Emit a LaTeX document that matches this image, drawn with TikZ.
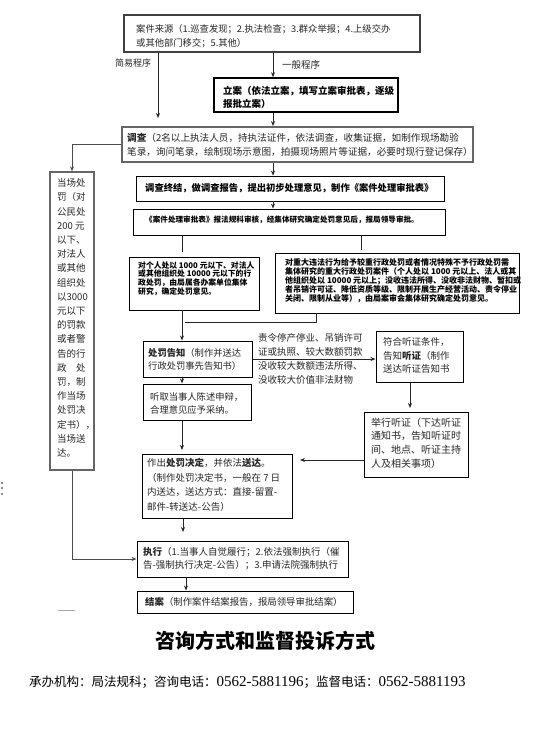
\documentclass[tikz,border=0pt]{standalone}
\usepackage{fontspec}
\setmainfont{Noto Sans CJK SC}
\newfontfamily\lat{Liberation Serif}
\usetikzlibrary{arrows.meta,fit}
\begin{document}
\begin{tikzpicture}[x=1pt,y=-1pt,
  frame/.style={draw=black, line width=0.8pt, inner sep=0pt},
  tx/.style={anchor=north west, inner sep=0pt, align=left, text=black!85},
  arr/.style={draw=black!85, line width=0.8pt, -{Stealth[length=5pt,width=4pt]}},
  ln/.style={draw=black!85, line width=0.8pt},
]
\useasboundingbox[fill=white] (0,0) rectangle (555,730);

% boxes
\node[frame, draw=black!75, line width=1.1pt, fit={(124,15) (420,52)}] (src) {};
\node[frame, line width=1.6pt, fit={(214,78) (398,112)}] (lian) {};
\node[frame, draw=black!60, line width=1.8pt, fit={(122,127) (473,162)}] (diaocha) {};
\node[frame, fit={(136,176) (444,201)}] (zhongjie) {};
\node[frame, fit={(133,209) (445,235)}] (shenpi) {};
\node[frame, fit={(129,257) (259,310)}] (lbox) {};
\node[frame, fit={(275,253) (519,313)}] (rbox) {};
\node[frame, line width=1pt, fit={(143,341) (252,377)}] (gaozhi) {};
\node[frame, line width=1pt, fit={(143,384) (251,420)}] (tingqu) {};
\node[frame, line width=1pt, fit={(376,331) (463,382)}] (tingzheng) {};
\node[frame, line width=1pt, fit={(364,412) (468,477)}] (juxing) {};
\node[frame, line width=1pt, fit={(142,454) (292,518)}] (jueding) {};
\node[frame, draw=black!60, line width=1.4pt, fit={(50,172) (94,470)}] (dangchang) {};
\node[frame, line width=1pt, fit={(137,541) (348,577)}] (zhixing) {};
\node[frame, line width=1pt, fit={(137,591) (353,613)}] (jiean) {};

% texts
\node[tx, font=\fontsize{9.3}{14}\selectfont] (src-t) at (136,24.6)
  {案件来源（1.巡查发现；2.执法检查；3.群众举报；4.上级交办\\或其他部门移交；5.其他）};
\node[tx, font=\fontsize{9.5}{12.5}\selectfont\bfseries, text=black] (lian-t) at (223,86.5)
  {立案（依法立案，填写立案审批表，逐级\\报批立案）};
\node[tx, font=\fontsize{9.6}{14}\selectfont] (diaocha-t) at (127,133.5)
  {\textbf{调查}（2名以上执法人员，持执法证件，依法调查，收集证据，如制作现场勘验\\笔录，询问笔录，绘制现场示意图，拍摄现场照片等证据，必要时现行登记保存）};
\node[tx, font=\fontsize{9.3}{14}\selectfont\bfseries, text=black] (zhongjie-t) at (145,183.6)
  {调查终结，做调查报告，提出初步处理意见，制作《案件处理审批表》};
\node[tx, font=\fontsize{7.6}{10}\selectfont\bfseries, text=black] (shenpi-t) at (145,215.4)
  {《案件处理审批表》报法规科审核，经集体研究确定处罚意见后，报局领导审批。};
\node[tx, font=\fontsize{7.8}{8.7}\selectfont\bfseries, text=black] (lbox-t) at (138,261.3)
  {对个人处以 1000 元以下、对法人\\或其他组织处 10000 元以下的行\\政处罚，由局属各办案单位集体\\研究，确定处罚意见。};
\node[tx, font=\fontsize{8}{9.1}\selectfont\bfseries, text=black] (rbox-t) at (285,258.2)
  {对重大违法行为给予较重行政处罚或者情况特殊不予行政处罚需\\集体研究的重大行政处罚案件（个人处以 1000 元以上、法人或其\\他组织处以 10000 元以上；没收违法所得、没收非法财物、暂扣或\\者吊销许可证、降低资质等级、限制开展生产经营活动、责令停业\\关闭、限制从业等），由局案审会集体研究确定处罚意见。};
\node[tx, font=\fontsize{9.3}{13}\selectfont] (gaozhi-t) at (148,348.6)
  {\textbf{处罚告知}（制作并送达\\行政处罚事先告知书）};
\node[tx, font=\fontsize{9.3}{13}\selectfont] (tingqu-t) at (150,392.6)
  {听取当事人陈述申辩，\\合理意见应予采纳。};
\node[tx, font=\fontsize{9.5}{13.5}\selectfont] (tingzheng-t) at (383,337.5)
  {符合听证条件，\\告知\textbf{听证}（制作\\送达听证告知书};
\node[tx, font=\fontsize{10}{13.7}\selectfont] (juxing-t) at (371,417.3)
  {举行听证（下达听证\\通知书，告知听证时\\间、地点、听证主持\\人及相关事项）};
\node[tx, font=\fontsize{9.5}{14.5}\selectfont] (jueding-t) at (147,458.5)
  {作出\textbf{处罚决定}，并依法\textbf{送达}。\\（制作处罚决定书，一般在 7 日\\内送达，送达方式：直接-留置-\\邮件-转送达-公告）};
\node[tx, font=\fontsize{9.5}{14.2}\selectfont] (dangchang-t) at (57,178.5)
  {当场处\\罚（对\\公民处\\200 元\\以下、\\对法人\\或其他\\组织处\\以3000\\元以下\\的罚款\\或者警\\告的行\\政\hspace{9.5pt}处\\罚，制\\作当场\\处罚决\\定书），\\当场送\\达。};
\node[tx, font=\fontsize{9.5}{13}\selectfont] (zhixing-t) at (143,547.5)
  {\textbf{执行}（1.当事人自觉履行；2.依法强制执行（催\\告-强制执行决定-公告）；3.申请法院强制执行};
\node[tx, font=\fontsize{9.4}{13}\selectfont] (jiean-t) at (145,597.6)
  {\textbf{结案}（制作案件结案报告，报局领导审批结案）};

% edge labels
\node[tx, font=\fontsize{9}{12}\selectfont] (jianyi-l) at (115,58.8) {简易程序};
\node[tx, font=\fontsize{9.5}{12}\selectfont] (yiban-l) at (282,60.5) {一般程序};
\node[tx, font=\fontsize{9.5}{14}\selectfont] (tz-up) at (258,333.5)
  {责令停产停业、吊销许可\\证或执照、较大数额罚款};
\node[tx, font=\fontsize{9.5}{14}\selectfont] (tz-dn) at (258,361.5)
  {没收较大数额违法所得、\\没收较大价值非法财物};

% title and footer
\node[font=\fontsize{20}{24}\selectfont\bfseries, inner sep=0pt] (title) at (265,641) {咨询方式和监督投诉方式};
\node[anchor=base west, inner sep=0pt, font=\fontsize{12.5}{15}\selectfont] (footer) at (29,686.5)
  {承办机构：局法规科；咨询电话：{\lat\fontsize{15}{15}\selectfont 0562-5881196}；监督电话：{\lat\fontsize{15}{15}\selectfont 0562-5881193}};

% coordinates
\coordinate (cA) at (273,0);
\coordinate (jy) at (158,118);
\coordinate (sl) at (182,252);
\coordinate (sr) at (361,250);
\coordinate (rj) at (316,322);
\coordinate (rj2) at (185,322);
\coordinate (jdtop) at (182,450);
\coordinate (zxtop) at (183,532);
\coordinate (tzend) at (410,408);
\coordinate (jdend) at (300,460);
\coordinate (jx) at (186,0);

% connectors
\draw[arr] (src.south -| jy) -- (jy);
\draw[arr] (src.south -| cA) -- (lian.north -| cA);
\draw[arr] (lian.south -| cA) -- (diaocha.north -| cA);
\draw[arr] (diaocha.south -| cA) -- (zhongjie.north -| cA);
\draw[arr] (zhongjie.south -| cA) -- (shenpi.north -| cA);
\draw[ln] (shenpi.south -| sl) -- (sl);
\draw[ln] (shenpi.south -| sr) -- (sr);
\draw[arr] (lbox.south -| sl) -- (gaozhi.north -| sl);
\draw[ln] (rbox.south -| rj) -- (rj) -- (rj2);
\draw[arr] (gaozhi.south -| sl) -- (tingqu.north -| sl);
\draw[arr] (gaozhi.east) -- (gaozhi.east -| tingzheng.west);
\draw[arr] (tingzheng.south -| tzend) -- (tzend);
\draw[arr] (jdend -| juxing.west) -- (jdend);
\draw[arr] (tingqu.south -| jdtop) -- (jdtop);
\draw[arr] (jueding.south -| zxtop) -- (zxtop);
\draw[arr] (zhixing.south -| jx) -- (jiean.north -| jx);
\draw[arr, draw=black!70] (diaocha.west) -| (dangchang.north);
\draw[arr, draw=black!70] (dangchang.south) |- (zhixing.west);

% small marks
\fill[black!45] (0.5,482) rectangle (2.5,484);
\fill[black!45] (0.5,487) rectangle (2.5,489);
\fill[black!45] (0.5,493) rectangle (2.5,495);
\draw[black!35, line width=0.8pt] (58,610) -- (75,610);
\end{tikzpicture}
\end{document}
